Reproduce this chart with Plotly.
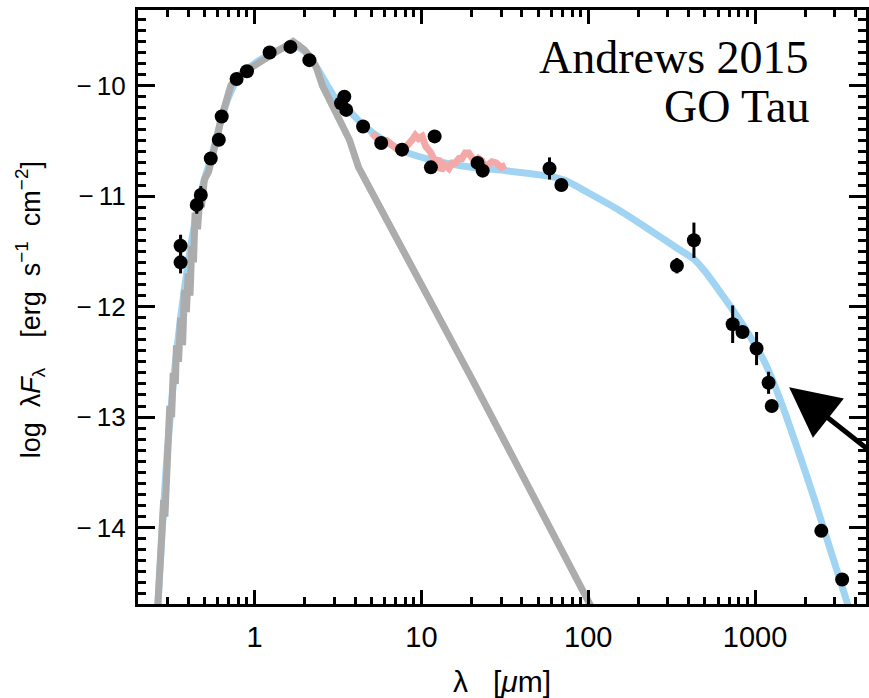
import numpy as np
import plotly.graph_objects as go

# Photometry: wavelength [micron], log(lambda F_lambda), 1-sigma error
phot_wl = [0.36, 0.36, 0.45, 0.476, 0.546, 0.61, 0.635, 0.78, 0.90, 1.23, 1.64, 2.13,
           3.3, 3.45, 3.54, 4.47, 5.74, 7.65, 11.4, 12.0, 21.7, 23.3, 58.6, 69.0,
           340.0, 430.0, 734.0, 841.0, 1021.0, 1205.0, 1259.0, 2495.0, 3327.0]
phot_logf = [-11.45, -11.60, -11.08, -10.99, -10.66, -10.49, -10.28, -9.94, -9.87, -9.70, -9.65, -9.77,
             -10.16, -10.10, -10.22, -10.37, -10.52, -10.58, -10.74, -10.46, -10.70, -10.77, -10.75, -10.90,
             -11.63, -11.40, -12.16, -12.23, -12.38, -12.69, -12.90, -14.03, -14.47]
phot_err = [0.10, 0.10, 0.08, 0.08, 0.05, 0.05, 0.05, 0.02, 0.02, 0.02, 0.02, 0.02,
            0.03, 0.03, 0.03, 0.02, 0.02, 0.02, 0.02, 0.02, 0.03, 0.03, 0.10, 0.02,
            0.07, 0.16, 0.17, 0.03, 0.15, 0.10, 0.03, 0.02, 0.02]

# Stellar photosphere spectrum
star_wl = [0.262, 0.275, 0.285, 0.29, 0.30, 0.305, 0.31, 0.318, 0.325, 0.335, 0.34, 0.35,
           0.36, 0.37, 0.38, 0.39, 0.40, 0.41, 0.42, 0.43, 0.44, 0.455, 0.47, 0.48, 0.50,
           0.53, 0.56, 0.60, 0.63, 0.66, 0.72, 0.78, 0.85, 0.95, 1.1, 1.25, 1.4, 1.55, 1.7,
           1.85, 2.0, 2.2, 2.35, 2.55, 2.8, 3.2, 3.7, 4.2, 5.0, 20.0, 107.0]
star_logf = [-14.75, -14.2, -13.75, -13.9, -13.3, -13.4, -12.9, -13.0, -12.6, -12.7, -12.35, -12.5,
             -12.1, -12.35, -11.85, -12.05, -11.7, -11.9, -11.45, -11.6, -11.15, -11.3, -11.0, -11.1, -10.85,
             -10.78, -10.6, -10.45, -10.3, -10.2, -10.0, -9.93, -9.88, -9.84, -9.78, -9.72, -9.68, -9.63, -9.60,
             -9.64, -9.68, -9.76, -9.84, -10.0, -10.13, -10.28, -10.49, -10.74, -10.95, -12.65, -14.75]

# Mid-infrared spectrum
irs_wl = [5.06, 5.4, 5.74, 6.2, 6.7, 7.1, 7.6, 8.2, 8.8, 9.2, 9.6, 10.1, 10.6, 11.3, 12.2, 12.7, 13.1,
          13.8, 14.6, 15.3, 16.0, 16.8, 17.5, 18.3, 19.2, 20.0, 21.0, 22.0, 23.0, 24.0, 25.3, 26.5,
          28.0, 30.0, 32.0]
irs_logf = [-10.43, -10.48, -10.52, -10.50, -10.55, -10.57, -10.60, -10.55, -10.49, -10.45, -10.48, -10.46,
            -10.55, -10.60, -10.70, -10.66, -10.77, -10.72, -10.75, -10.70, -10.70, -10.66, -10.66, -10.61,
            -10.61, -10.65, -10.70, -10.66, -10.68, -10.74, -10.72, -10.69, -10.70, -10.74, -10.72]

# Disk model SED
model_wl = [0.262, 0.28, 0.30, 0.33, 0.36, 0.40, 0.45, 0.50, 0.55, 0.62, 0.70, 0.80, 1.0, 1.3, 1.7,
            2.1, 2.5, 3.0, 3.7, 4.5, 6.0, 8.0, 12.0, 20.0, 32.0, 58.0, 73.0, 100.0, 150.0, 230.0,
            340.0, 430.0, 500.0, 660.0, 865.0, 1140.0, 1420.0, 1790.0, 2265.0, 2825.0, 3565.0, 4000.0]
model_logf = [-14.75, -14.0, -13.3, -12.6, -12.1, -11.6, -11.15, -10.85, -10.65, -10.35, -10.1, -9.93, -9.8, -9.7, -9.63,
              -9.72, -9.9, -10.1, -10.23, -10.36, -10.5, -10.6, -10.68, -10.74, -10.77, -10.82, -10.86, -10.97, -11.12, -11.3,
              -11.47, -11.57, -11.68, -11.93, -12.19, -12.50, -12.85, -13.28, -13.74, -14.20, -14.68, -14.95]

x_tick_vals = [1, 10, 100, 1000]
x_tick_text = ["1", "10", "100", "1000"]
y_tick_vals = [-14, -13, -12, -11, -10]
y_tick_text = ["−\u200914", "−\u200913", "−\u200912", "−\u200911", "−\u200910"]

LIGHT_BLUE = "rgb(160,212,242)"
GREY = "rgb(172,172,172)"
PINK = "rgb(244,168,168)"
SANS = "Liberation Sans, Arial, sans-serif"
SERIF = "Liberation Serif, Times New Roman, serif"

fig = go.Figure()
fig.add_trace(go.Scatter(x=model_wl, y=model_logf, mode="lines",
                         line=dict(color=LIGHT_BLUE, width=7, shape="spline", smoothing=0.6),
                         hoverinfo="skip"))
fig.add_trace(go.Scatter(x=star_wl, y=star_logf, mode="lines",
                         line=dict(color=GREY, width=7), hoverinfo="skip"))
fig.add_trace(go.Scatter(x=irs_wl, y=irs_logf, mode="lines",
                         line=dict(color=PINK, width=7), hoverinfo="skip"))
fig.add_trace(go.Scatter(x=phot_wl, y=phot_logf, mode="markers",
                         marker=dict(color="black", size=14),
                         error_y=dict(type="data", array=phot_err, color="black", thickness=3, width=0)))

minor_x = [m * 10.0 ** d for d in range(-1, 4) for m in range(2, 10)]

axis_common = dict(showline=True, linecolor="black", linewidth=3, mirror="ticks",
                   ticks="inside", tickcolor="black", tickwidth=3,
                   showgrid=False, zeroline=False)

fig.update_xaxes(type="log", range=[np.log10(0.2), np.log10(4624)],
                 tickmode="array", tickvals=x_tick_vals, ticktext=x_tick_text, ticklen=14,
                 tickfont=dict(family=SANS, size=29, color="black"), ticklabelstandoff=5,
                 minor=dict(tickmode="array", tickvals=minor_x, ticks="inside", ticklen=7,
                            tickcolor="black", tickwidth=3),
                 **axis_common)
fig.update_yaxes(range=[-14.692, -9.316], tickmode="array", tickvals=y_tick_vals,
                 ticktext=y_tick_text, ticklen=17,
                 tickfont=dict(family=SANS, size=26, color="black"), ticklabelstandoff=4,
                 minor=dict(dtick=0.1, tick0=-15, ticks="inside", ticklen=8, tickcolor="black", tickwidth=3),
                 **axis_common)

# Label block, upper right
fig.add_annotation(xref="paper", yref="paper", x=0.925, y=(604 - 58) / 594, xanchor="right",
                   yanchor="middle", text="Andrews 2015", showarrow=False,
                   font=dict(family=SERIF, size=46, color="black"))
fig.add_annotation(xref="paper", yref="paper", x=0.925, y=(604 - 106) / 594, xanchor="right",
                   yanchor="middle", text="GO Tau", showarrow=False,
                   font=dict(family=SERIF, size=46, color="black"))
fig.add_annotation(x=np.log10(1600), y=-12.73, xref="x", yref="y", text="",
                   showarrow=True, arrowhead=2, arrowsize=2.0, arrowwidth=5, arrowcolor="black",
                   ax=100, ay=63, axref="pixel", ayref="pixel")

# Axis titles
fig.add_annotation(xref="paper", yref="paper", x=-0.148, y=0.495, xanchor="center", yanchor="middle",
                   text="log  λ<i>F</i><sub>λ</sub>    [erg  s<sup>−1</sup>  cm<sup>−2</sup>]",
                   textangle=-90, showarrow=False,
                   font=dict(family=SANS, size=27, color="black"))
fig.add_annotation(xref="paper", yref="paper", x=0.5, y=-0.13, xanchor="center", yanchor="middle",
                   text="λ   [<i>μ</i>m]", showarrow=False,
                   font=dict(family=SANS, size=30, color="black"))

fig.update_layout(width=869, height=698, margin=dict(l=138, r=0, t=10, b=94),
                  paper_bgcolor="white", plot_bgcolor="white", showlegend=False)

fig.write_html("out.html")
